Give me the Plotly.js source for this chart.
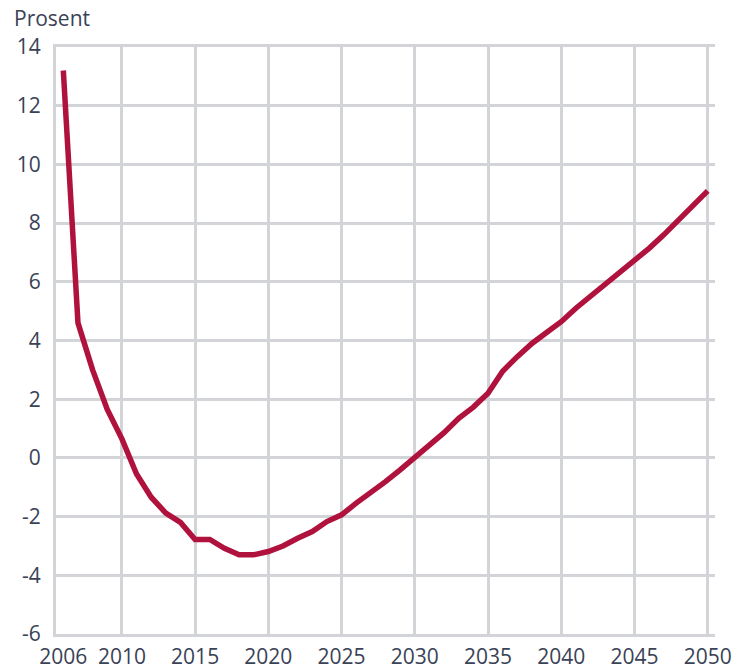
<!DOCTYPE html>
<html>
<head>
<meta charset="utf-8">
<script src="https://cdn.plot.ly/plotly-3.0.1.min.js"></script>
<style>
  html, body { margin: 0; padding: 0; background: #ffffff; }
  #chart { width: 734px; height: 669px; }
</style>
</head>
<body>
<div id="chart"></div>
<script>
const years = [2006, 2007, 2008, 2009, 2010, 2011, 2012, 2013, 2014, 2015,
               2016, 2017, 2018, 2019, 2020, 2021, 2022, 2023, 2024, 2025,
               2026, 2027, 2028, 2029, 2030, 2031, 2032, 2033, 2034, 2035,
               2036, 2037, 2038, 2039, 2040, 2041, 2042, 2043, 2044, 2045,
               2046, 2047, 2048, 2049, 2050];
const values = [13.2, 4.6, 3.0, 1.65, 0.65, -0.55, -1.34, -1.88, -2.2, -2.78,
                -2.78, -3.08, -3.3, -3.3, -3.19, -3.0, -2.74, -2.51, -2.17, -1.94,
                -1.54, -1.2, -0.81, -0.41, 0.0, 0.39, 0.86, 1.35, 1.73, 2.2,
                2.95, 3.45, 3.9, 4.27, 4.64, 5.1, 5.5, 5.89, 6.29, 6.69,
                7.14, 7.6, 8.1, 8.62, 9.1];
const xTickLabels = [2006, 2010, 2015, 2020, 2025, 2030, 2035, 2040, 2045, 2050];
const xGridYears = [2010, 2015, 2020, 2025, 2030, 2035, 2040, 2045, 2050];
const yTicks = [-6, -4, -2, 0, 2, 4, 6, 8, 10, 12, 14];
const yLabel = 'Prosent';

const gridColor = '#d3d4d7';
const textColor = '#3a4256';
const fontFamily = '"Open Sans", "Noto Sans", sans-serif';

const traces = [
  {
    x: years,
    y: values,
    type: 'scatter',
    mode: 'lines',
    line: { color: '#b0123e', width: 5.5, shape: 'linear' },
    hoverinfo: 'skip',
    showlegend: false
  },
  {
    x: [years[0]],
    y: [values[0]],
    xaxis: 'x2',
    type: 'scatter',
    mode: 'markers',
    marker: { opacity: 0 },
    hoverinfo: 'skip',
    showlegend: false
  }
];

const xRange = [2005.5, 2050.5];

const layout = {
  width: 734,
  height: 669,
  margin: { l: 56, r: 19, t: 47, b: 35 },
  paper_bgcolor: '#ffffff',
  plot_bgcolor: '#ffffff',
  font: { family: fontFamily, size: 21, color: textColor },
  xaxis: {
    range: xRange,
    tickmode: 'array',
    tickvals: xTickLabels,
    ticktext: xTickLabels.map(String),
    showgrid: false,
    zeroline: false,
    showline: true,
    linecolor: gridColor,
    linewidth: 3,
    mirror: true,
    ticks: '',
    ticklabelstandoff: 2,
    tickfont: { family: fontFamily, size: 21, color: textColor },
    fixedrange: true
  },
  xaxis2: {
    overlaying: 'x',
    range: xRange,
    tickmode: 'array',
    tickvals: xGridYears,
    showticklabels: false,
    showgrid: true,
    gridcolor: gridColor,
    gridwidth: 3,
    zeroline: false,
    showline: false,
    ticks: '',
    fixedrange: true
  },
  yaxis: {
    range: [-6, 14],
    tickmode: 'array',
    tickvals: yTicks,
    ticktext: yTicks.map(String),
    showgrid: true,
    gridcolor: gridColor,
    gridwidth: 3,
    zeroline: false,
    showline: true,
    linecolor: gridColor,
    linewidth: 3,
    ticks: '',
    ticklabelstandoff: 8,
    tickfont: { family: fontFamily, size: 21, color: textColor },
    fixedrange: true
  },
  annotations: [
    {
      text: yLabel,
      xref: 'paper', yref: 'paper',
      x: 0, y: 1,
      xanchor: 'left', yanchor: 'middle',
      xshift: -44, yshift: 29,
      showarrow: false,
      font: { family: fontFamily, size: 21, color: textColor }
    }
  ]
};

Plotly.newPlot('chart', traces, layout, { displayModeBar: false, staticPlot: true });
</script>
</body>
</html>
